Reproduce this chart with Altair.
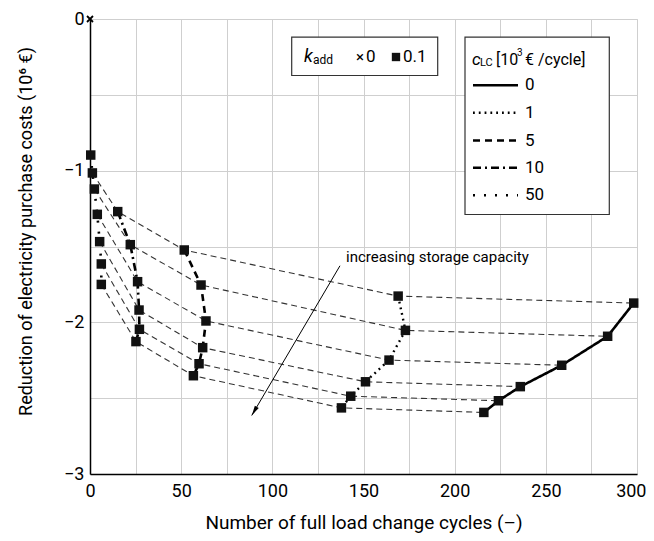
import altair as alt
import pandas as pd

# ---- data ----
storage = [1, 2, 3, 4, 5, 6]
c0_x = [298.2, 283.9, 258.7, 236.0, 224.0, 216.0]
c0_y = [-1.873, -2.092, -2.283, -2.424, -2.517, -2.594]
c1_x = [169.0, 173.0, 164.0, 151.1, 143.0, 137.9]
c1_y = [-1.827, -2.053, -2.249, -2.392, -2.487, -2.564]
c5_x = [51.7, 60.9, 63.6, 61.8, 59.8, 56.7]
c5_y = [-1.523, -1.754, -1.991, -2.167, -2.273, -2.352]
c10_x = [15.2, 22.1, 26.1, 26.9, 27.1, 25.2]
c10_y = [-1.270, -1.488, -1.732, -1.919, -2.046, -2.127]
c50_x = [0.4, 1.3, 2.4, 4.0, 5.3, 6.2, 6.2]
c50_y = [-0.897, -1.015, -1.121, -1.288, -1.468, -1.615, -1.750]
kadd0_x = [0.0]
kadd0_y = [0.0]
arrow_x = [137.1, 88.7]
arrow_y = [-1.627, -2.614]
annotation = "increasing storage capacity"

legend_labels = ["0", "1", "5", "10", "50"]
x_ticks = list(range(0, 301, 25))
y_ticks = [v / 4 for v in range(-12, 1)]

FONT = "Roboto"

series = {
    "0": (c0_x, c0_y, [1, 0], 2.6),
    "1": (c1_x, c1_y, [1.8, 4], 2.4),
    "5": (c5_x, c5_y, [7, 5], 2.6),
    "10": (c10_x, c10_y, [8, 4, 2, 4], 2.6),
    "50": (c50_x, c50_y, [2, 9], 2.6),
}

# connectors between equal storage capacity
rows = []
for i, s in enumerate(storage):
    pts = [(c50_x[i + 1], c50_y[i + 1]), (c10_x[i], c10_y[i]), (c5_x[i], c5_y[i]),
           (c1_x[i], c1_y[i]), (c0_x[i], c0_y[i])]
    for k, (xx, yy) in enumerate(pts):
        rows.append({"x": xx, "y": yy, "s": s, "o": k})
conn = pd.DataFrame(rows)

xsc = alt.Scale(domain=[0, 300], nice=False, zero=False)
ysc = alt.Scale(domain=[-3, 0], nice=False, zero=False)

common = dict(grid=True, ticks=False, labelFont=FONT, titleFont=FONT, titleFontWeight="normal",
              labelColor="black", titleColor="black", domainColor="black", domainWidth=1.5,
              gridColor="#cfcfcf", titleBaseline="middle", labelFlush=False, labelOverlap=False)
xax = alt.Axis(values=x_ticks,
               labelExpr="datum.value % 50 == 0 ? format(datum.value, 'd') : ''",
               labelAlign={"condition": {"test": "datum.value == 300", "value": "right"}, "value": "center"},
               labelOffset={"condition": {"test": "datum.value == 300", "value": 9}, "value": 0},
               title="Number of full load change cycles (–)",
               labelFontSize=18, titleFontSize=19, labelPadding=8, titleY=48, **common)
yax = alt.Axis(values=y_ticks,
               labelExpr="datum.value % 1 == 0 ? format(datum.value, 'd') : ''",
               title="Reduction of electricity purchase costs (10⁶ €)",
               labelFontSize=18, titleFontSize=18, labelPadding=6, titleX=-64, titleY=212,
               **common)

base_grid = alt.Chart(pd.DataFrame({"x": [0], "y": [0]})).mark_point(opacity=0).encode(
    x=alt.X("x:Q", scale=xsc, axis=xax), y=alt.Y("y:Q", scale=ysc, axis=yax))

layers = [base_grid]

layers.append(alt.Chart(conn).mark_line(color="#333", strokeWidth=1.1, strokeDash=[6, 4]).encode(
    x=alt.X("x:Q", scale=xsc), y=alt.Y("y:Q", scale=ysc), detail="s:N", order="o:Q"))

for name, (xs, ys, dash, w) in series.items():
    df = pd.DataFrame({"x": xs, "y": ys, "o": list(range(len(xs)))})
    layers.append(alt.Chart(df).mark_line(color="black", strokeWidth=w, strokeDash=dash).encode(
        x=alt.X("x:Q", scale=xsc), y=alt.Y("y:Q", scale=ysc), order="o:Q"))

pts = pd.concat([pd.DataFrame({"x": xs, "y": ys}) for (xs, ys, _, _) in series.values()])
layers.append(alt.Chart(pts).mark_square(color="#111", size=90, opacity=1).encode(
    x=alt.X("x:Q", scale=xsc), y=alt.Y("y:Q", scale=ysc)))

layers.append(alt.Chart(pd.DataFrame({"x": kadd0_x, "y": kadd0_y})).mark_point(
    shape="M-1,-1L1,1M-1,1L1,-1", filled=False, color="black", strokeWidth=1.8, size=36, opacity=1).encode(
    x=alt.X("x:Q", scale=xsc), y=alt.Y("y:Q", scale=ysc)))

# arrow
arr = pd.DataFrame({"x": [arrow_x[0]], "y": [arrow_y[0]], "x2": [arrow_x[1]], "y2": [arrow_y[1]]})
layers.append(alt.Chart(arr).mark_rule(color="black", strokeWidth=1).encode(
    x=alt.X("x:Q", scale=xsc), y=alt.Y("y:Q", scale=ysc), x2="x2:Q", y2="y2:Q"))
layers.append(alt.Chart(pd.DataFrame({"x": [arrow_x[1]], "y": [arrow_y[1]]})).mark_point(
    shape="M0,0L-0.45,2L0.45,2Z", filled=True, color="black", size=100, angle=210.5, opacity=1).encode(
    x=alt.X("x:Q", scale=xsc), y=alt.Y("y:Q", scale=ysc)))
layers.append(alt.Chart(pd.DataFrame({"x": [140.4], "y": [-1.572], "t": [annotation]})).mark_text(
    align="left", baseline="middle", font=FONT, fontSize=15, color="black").encode(
    x=alt.X("x:Q", scale=xsc), y=alt.Y("y:Q", scale=ysc), text="t:N"))

one = pd.DataFrame({"a": [0]})

def box(x1, x2, y1, y2):
    return alt.Chart(one).mark_rect(fill="white", stroke="#333", strokeWidth=1.2).encode(
        x=alt.value(x1), x2=alt.value(x2), y=alt.value(y1), y2=alt.value(y2))

def txt(x, y, t, size=17, style="normal", align="left"):
    return alt.Chart(one).mark_text(align=align, baseline="middle", font=FONT, fontSize=size,
                                    fontStyle=style, color="black").encode(
        x=alt.value(x), y=alt.value(y), text=alt.value(t))

# legend 1
layers.append(box(201.7, 347.7, 18.2, 56.5))
layers.append(txt(214, 37.5, "k", 18, "italic"))
layers.append(txt(223, 41, "add", 12))
layers.append(txt(266, 38, "×", 15))
layers.append(txt(276, 37.5, "0", 17))
layers.append(alt.Chart(one).mark_square(color="#111", size=70, opacity=1).encode(
    x=alt.value(306), y=alt.value(38)))
layers.append(txt(313, 37.5, "0.1", 17))

# legend 2
layers.append(box(375, 519.3, 18.2, 195.5))
layers.append(txt(382, 40.5, "c", 17, "italic"))
layers.append(txt(390, 44, "LC", 11))
layers.append(txt(406, 40.5, "[10", 16))
layers.append(txt(427, 34, "3", 10))
layers.append(txt(435, 40.5, "€ /cycle]", 16))
ys_leg = [66.2, 93.8, 121.5, 148.8, 176.2]
for lab, yy in zip(legend_labels, ys_leg):
    _, _, dash, w = series[lab]
    layers.append(alt.Chart(one).mark_rule(color="black", strokeWidth=w, strokeDash=dash).encode(
        x=alt.value(383), x2=alt.value(428), y=alt.value(yy)))
    layers.append(txt(435, yy, lab, 17))

chart = alt.layer(*layers).properties(
    width=547, height=455,
    autosize=alt.AutoSizeParams(type="none"),
    padding={"left": 82, "top": 11, "right": 9, "bottom": 59},
).configure_view(stroke="black", strokeWidth=1.5).configure(background="white")

chart.save("out.html", embed_options={"renderer": "svg", "actions": False})
